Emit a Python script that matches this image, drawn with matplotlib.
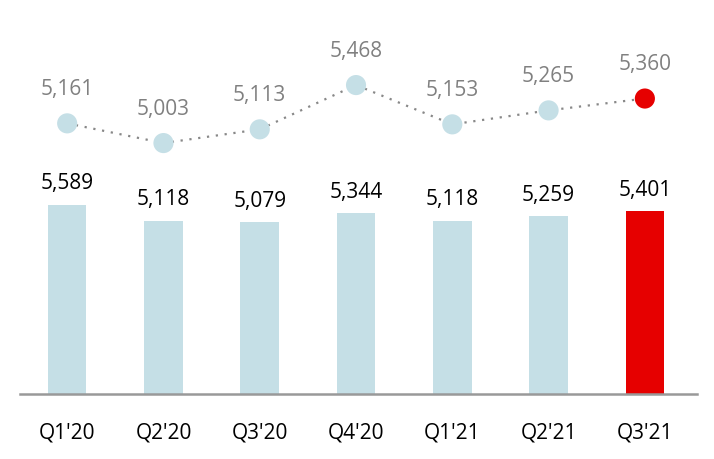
import matplotlib.pyplot as plt

plt.rcParams['font.family'] = ['Open Sans', 'DejaVu Sans']

quarters = ["Q1'20", "Q2'20", "Q3'20", "Q4'20", "Q1'21", "Q2'21", "Q3'21"]
bar_values = [5589, 5118, 5079, 5344, 5118, 5259, 5401]
line_values = [5161, 5003, 5113, 5468, 5153, 5265, 5360]

light_blue = '#c5dfe6'
red = '#e60000'
colors = [light_blue] * (len(quarters) - 1) + [red]

fig = plt.figure(figsize=(7.14, 4.6), dpi=100)
ax = fig.add_axes([0.028, 0.141, 0.948, 0.859])
x = list(range(len(quarters)))

# Bars
ax.bar(x, bar_values, width=0.4, color=colors, zorder=2)
for xi, v in zip(x, bar_values):
    ax.annotate(f'{v:,}', (xi, v), xytext=(0, 16), textcoords='offset points',
                ha='center', va='center', fontsize=15, color='black')
ax.set_ylim(0, 11681)
ax.set_xlim(-0.49, 6.54)

# Line on a second scale
ax2 = ax.twinx()
ax2.plot(x, line_values, linestyle=(0, (1, 3)), color='#888888', linewidth=1.6, zorder=1)
ax2.scatter(x, line_values, s=210, c=colors, zorder=3, edgecolors='none')
for xi, v in zip(x, line_values):
    ax2.annotate(f'{v:,}', (xi, v), xytext=(0, 25), textcoords='offset points',
                 ha='center', va='center', fontsize=15, color='#808080')
ax2.set_ylim(2990, 6158)

for a in (ax, ax2):
    for s in ['top', 'right', 'left']:
        a.spines[s].set_visible(False)
    a.set_yticks([])
ax2.spines['bottom'].set_visible(False)
ax.spines['bottom'].set_color('#999999')
ax.spines['bottom'].set_linewidth(1.8)

ax.set_xticks(x)
ax.set_xticklabels(quarters, fontsize=15)
ax.tick_params(axis='x', length=0, pad=20)

fig.savefig('out.png', dpi=100)
